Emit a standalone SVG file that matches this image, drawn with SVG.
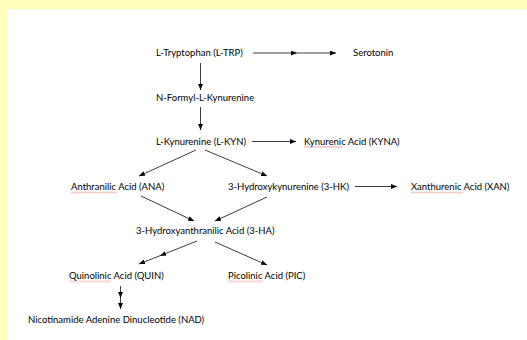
<svg xmlns="http://www.w3.org/2000/svg" width="527" height="340" viewBox="0 0 527 340">
<style>
text{font-family:Lato,"Liberation Sans",sans-serif;font-size:9.5px;fill:#000}
.c line,.c polyline{stroke:#1a1a1a;stroke-width:0.85;fill:none;marker-end:url(#ah)}
.c polyline{marker-mid:url(#ah)}
.sp{fill:url(#wavy)}
</style>
<defs>
<marker id="ah" markerUnits="userSpaceOnUse" markerWidth="6" markerHeight="5" refX="6" refY="2.5" orient="auto" viewBox="0 0 6 5">
<path d="M0,0 L6,2.5 L0,5 z" fill="#000"/>
</marker>
<pattern id="wavy" patternUnits="userSpaceOnUse" width="2" height="2">
<path d="M0,1.6 L1,0.4 L2,1.6" stroke="#e03c3c" stroke-width="0.5" fill="none"/>
</pattern>
</defs>
<rect width="527" height="340" fill="#ffffbb"/>
<rect x="8" y="9" width="519" height="331" fill="#ffffff"/>
<g class="c" id="connectors">
<polyline points="253,53 297,53 336,53"/>
<line x1="200.5" y1="63" x2="200.5" y2="90"/>
<line x1="200.5" y1="107" x2="200.5" y2="130"/>
<line x1="252" y1="141.5" x2="296" y2="141.5"/>
<line x1="196" y1="150" x2="139" y2="176"/>
<line x1="205" y1="150" x2="267" y2="176"/>
<line x1="355" y1="186.5" x2="397" y2="186.5"/>
<line x1="141" y1="196" x2="194" y2="221"/>
<line x1="267" y1="197" x2="215" y2="221"/>
<polyline points="197,241 160,255.7 139,264"/>
<line x1="215" y1="242" x2="267" y2="265"/>
<polyline points="120.5,286 120.5,298 120.5,309"/>
</g>
<g id="n-ltrp"><text x="156" y="56">L-Tryptophan (L-TRP)</text></g>
<g id="n-sero"><text x="353" y="56">Serotonin</text></g>
<g id="n-nfk"><text x="156" y="101">N-Formyl-L-Kynurenine</text></g>
<g id="n-lkyn"><text x="156" y="144.5">L-Kynurenine (L-KYN)</text></g>
<g id="n-kyna"><rect class="sp" x="304" y="146" width="39" height="2"/><text x="304" y="144.5">Kynurenic Acid (KYNA)</text></g>
<g id="n-ana"><rect class="sp" x="71" y="191.5" width="46" height="2"/><text x="71" y="190">Anthranilic Acid (ANA)</text></g>
<g id="n-3hk"><text x="228" y="190">3-Hydroxykynurenine (3-HK)</text></g>
<g id="n-xan"><rect class="sp" x="411" y="191.5" width="52" height="2"/><text x="411" y="190">Xanthurenic Acid (XAN)</text></g>
<g id="n-3ha"><text x="136" y="234">3-Hydroxyanthranilic Acid (3-HA)</text></g>
<g id="n-quin"><rect class="sp" x="69" y="280.5" width="42" height="2"/><text x="69" y="279">Quinolinic Acid (QUIN)</text></g>
<g id="n-pic"><rect class="sp" x="228" y="280.5" width="35" height="2"/><text x="228" y="279">Picolinic Acid (PIC)</text></g>
<g id="n-nad"><text x="28" y="323">Nicotinamide Adenine Dinucleotide (NAD)</text></g>
</svg>
